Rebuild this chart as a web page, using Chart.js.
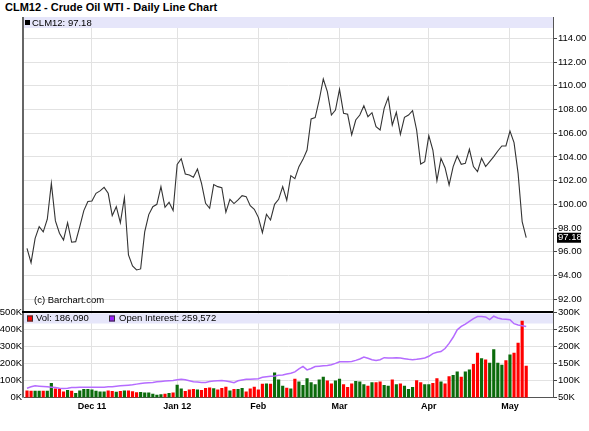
<!DOCTYPE html>
<html>
<head>
<meta charset="utf-8">
<script src="https://cdn.jsdelivr.net/npm/chart.js@4.4.0/dist/chart.umd.min.js"></script>
<style>
  body { margin: 0; background: #fff; }
  #wrap { position: relative; width: 589px; height: 431px; }
  #wrap canvas { position: absolute; left: 0; top: 0; }
  #title { position: absolute; left: 5px; top: 1px; font: bold 11px "Liberation Sans", Arial, sans-serif; color: #000; }
</style>
</head>
<body>
<div id="wrap">
  <div id="title">CLM12 - Crude Oil WTI - Daily Line Chart</div>
  <canvas id="priceChart" width="589" height="431"></canvas>
  <canvas id="volChart" width="589" height="431"></canvas>
</div>
<script>
// daily closes, Nov 8 2011 .. May 7 2012 (trading days)
const closes = [
  96.29, 95.08, 97.13, 98.12, 97.67, 98.74, 101.77, 98.60, 97.56, 96.99,
  98.45, 96.80, 96.85, 98.12, 99.47, 100.23, 100.28, 100.93, 101.13, 101.43,
  100.93, 99.04, 99.80, 98.45, 100.56, 95.73, 94.80, 94.46, 94.55, 97.67,
  99.13, 99.80, 100.00, 101.49, 99.75, 100.17, 99.47, 103.37, 103.85, 102.56,
  102.47, 102.28, 102.98, 101.77, 100.08, 99.66, 101.66, 101.49, 101.41, 99.33,
  100.42, 100.06, 100.37, 100.73, 100.65, 99.89, 99.58, 98.90, 97.61, 99.16,
  98.68, 100.00, 100.42, 101.49, 100.34, 102.42, 102.16, 103.18, 103.79, 104.58,
  107.20, 107.31, 108.80, 110.57, 109.50, 107.53, 107.95, 109.70, 107.67, 107.59,
  105.85, 107.11, 107.53, 108.32, 107.39, 107.73, 106.55, 106.27, 108.10, 109.02,
  106.69, 107.76, 105.90, 107.34, 107.53, 107.90, 106.27, 103.40, 103.60, 105.79,
  104.58, 102.00, 103.88, 103.09, 101.63, 103.18, 104.08, 103.37, 103.45, 104.64,
  103.18, 102.76, 103.88, 103.18, 103.60, 104.02, 104.50, 104.92, 104.92, 106.18,
  105.20, 102.61, 98.54, 97.18
];

// volume, thousands
const volume = [
  41, 39, 39, 39, 39, 39, 85, 53, 51, 35,
  43, 39, 26, 41, 49, 49, 47, 39, 34, 34,
  41, 37, 33, 38, 41, 40, 36, 30, 32, 28,
  29, 22, 15, 18, 22, 26, 28, 74, 52, 38,
  47, 50, 47, 43, 55, 58, 54, 47, 55, 63,
  41, 49, 50, 55, 35, 52, 63, 47, 80, 81,
  80, 146, 105, 69, 57, 53, 109, 93, 73, 113,
  89, 77, 105, 121, 99, 81, 99, 109, 77, 61,
  81, 97, 93, 77, 69, 89, 89, 93, 73, 69,
  105, 77, 81, 69, 49, 61, 101, 89, 77, 77,
  85, 113, 93, 81, 125, 132, 152, 121, 152, 164,
  196, 263, 231, 223, 204, 283, 204, 192, 219, 253,
  263, 322, 451, 186.09
];

// open interest, thousands
const openInterest = [
  78, 82, 85, 84, 83, 82, 81, 80, 78, 77,
  78, 80, 80, 81, 81, 81, 81, 81, 81, 81,
  82, 82, 84, 85, 86, 87, 88, 90, 92, 93,
  94, 95, 97, 98, 99, 100, 101, 103, 104, 103,
  100, 97, 96, 95, 95, 98, 99, 100, 101, 99,
  97, 94, 100, 102, 104, 104, 105, 106, 110, 112,
  113, 114, 116, 117, 120, 122, 126, 135, 142, 132,
  136, 142, 143, 144, 145, 147, 151, 156, 156, 156,
  157, 160, 164, 170, 166, 162, 160, 162, 168, 167,
  167, 168, 167, 165, 163, 162, 163, 165, 167, 172,
  180, 184, 186, 195, 210, 228, 250, 260, 267, 275,
  283, 289, 289, 288, 280, 290, 285, 282, 281, 280,
  268, 264, 262, 259.572
];

// month ticks: index of first trading day of each month
const monthIdx = [16, 37, 57, 77, 99, 119];
const monthLabels = ['Dec 11', 'Jan 12', 'Feb', 'Mar', 'Apr', 'May'];
const priceTicks = [92, 94, 96, 98, 100, 102, 104, 106, 108, 110, 112, 114];
const volTicks = [0, 100, 200, 300, 400, 500];
const oiTicks = [50, 100, 150, 200, 250, 300];

Chart.defaults.font.family = '"Liberation Sans", Arial, sans-serif';
Chart.defaults.color = '#000';
Chart.defaults.animation = false;

const GRID = '#e2e2e2';
const BAND = '#e6e6fa';
const X_MIN = -0.74, X_MAX = 129.6;
const last = closes.length - 1;

const xScale = (showLabels) => ({
  type: 'linear',
  min: X_MIN,
  max: X_MAX,
  offset: false,
  afterBuildTicks: s => { s.ticks = monthIdx.map(v => ({ value: v })); },
  afterFit: s => { s.height = showLabels ? 33.3 : 0; },
  ticks: {
    display: showLabels,
    autoSkip: false,
    maxRotation: 0,
    padding: 3,
    font: { size: 9, weight: 'bold' },
    callback: (v) => monthLabels[monthIdx.indexOf(v)] || ''
  },
  grid: { color: GRID, drawTicks: false, offset: false },
  border: { display: showLabels, color: '#555' }
});

function legendSquare(ctx, x, y, color) {
  ctx.fillStyle = color;
  ctx.fillRect(x, y, 6, 6);
  ctx.strokeStyle = '#333';
  ctx.lineWidth = 1;
  ctx.strokeRect(x + 0.5, y + 0.5, 5, 5);
}

const pricePanel = {
  id: 'pricePanel',
  beforeDatasetsDraw(chart) {
    const { ctx, chartArea: a } = chart;
    ctx.save();
    ctx.fillStyle = BAND;
    ctx.fillRect(a.left, a.top, a.right - a.left, 11);
    ctx.fillStyle = '#000';
    ctx.font = '9.5px "Liberation Sans", Arial, sans-serif';
    ctx.textBaseline = 'middle';
    ctx.fillRect(25, a.top + 3, 5, 5);
    ctx.fillText('CLM12: ' + closes[last].toFixed(2), 32, a.top + 6);
    ctx.fillText('(c) Barchart.com', 34, 300);
    ctx.restore();
  },
  afterDraw(chart) {
    const { ctx, chartArea: a } = chart;
    const y = chart.scales.y.getPixelForValue(closes[last]);
    ctx.save();
    ctx.fillStyle = '#666';
    ctx.fillRect(22, a.top, 2, a.bottom - a.top);
    ctx.fillStyle = '#000';
    ctx.fillRect(557, y - 5, 24, 10);
    ctx.fillStyle = '#fff';
    ctx.font = '9.5px "Liberation Sans", Arial, sans-serif';
    ctx.textBaseline = 'middle';
    ctx.fillText(closes[last].toFixed(2), 558, y);
    ctx.restore();
  }
};

new Chart(document.getElementById('priceChart'), {
  type: 'line',
  data: {
    datasets: [{
      data: closes.map((v, i) => ({ x: i, y: v })),
      borderColor: '#333',
      borderWidth: 1.1,
      pointRadius: 0,
      tension: 0
    }]
  },
  options: {
    responsive: false,
    devicePixelRatio: 1,
    layout: { padding: { top: 17, left: 24, right: 0, bottom: 120 } },
    plugins: { legend: { display: false }, tooltip: { enabled: false } },
    scales: {
      x: xScale(false),
      y: {
        position: 'right',
        min: 91.0,
        max: 115.8,
        afterBuildTicks: s => { s.ticks = priceTicks.map(v => ({ value: v })); },
        afterFit: s => { s.width = 36; },
        ticks: { font: { size: 9.5 }, padding: 1, callback: v => v.toFixed(2) },
        grid: { color: GRID, tickColor: '#444', tickLength: 4 },
        border: { color: '#555' }
      }
    }
  },
  plugins: [pricePanel]
});

// band + legend go under the bars and the OI line, frame goes on top
const volPanel = {
  id: 'volPanel',
  beforeDatasetsDraw(chart) {
    const { ctx, chartArea: a } = chart;
    ctx.save();
    ctx.fillStyle = BAND;
    ctx.fillRect(a.left, a.top + 1.5, a.right - a.left, 10);
    ctx.font = '9.5px "Liberation Sans", Arial, sans-serif';
    ctx.textBaseline = 'middle';
    legendSquare(ctx, 27, a.top + 3.5, '#ff0000');
    ctx.fillStyle = '#000';
    ctx.fillText('Vol: ' + Math.round(volume[last] * 1000).toLocaleString('en-US'), 36, a.top + 6.5);
    legendSquare(ctx, 109, a.top + 3.5, '#9a1cff');
    ctx.fillStyle = '#000';
    ctx.fillText('Open Interest: ' + Math.round(openInterest[last] * 1000).toLocaleString('en-US'), 119, a.top + 6.5);
    ctx.restore();
  },
  afterDraw(chart) {
    const { ctx, chartArea: a } = chart;
    ctx.save();
    ctx.fillStyle = '#666';
    ctx.fillRect(22, a.top, 2, a.bottom - a.top);
    ctx.fillStyle = '#000';
    ctx.fillRect(22, a.top - 1, a.right - 22, 2);
    ctx.restore();
  }
};

const barColors = closes.map((v, i) => (i > 0 && v > closes[i - 1]) ? '#0b6b0b' : '#ff0000');

new Chart(document.getElementById('volChart'), {
  type: 'bar',
  data: {
    datasets: [
      {
        type: 'line',
        data: openInterest.map((v, i) => ({ x: i, y: v })),
        yAxisID: 'yOI',
        borderColor: '#b56cff',
        borderWidth: 1.5,
        pointRadius: 0,
        tension: 0,
        order: 0
      },
      {
        data: volume.map((v, i) => ({ x: i, y: v })),
        yAxisID: 'yVol',
        backgroundColor: barColors,
        barThickness: 2.5,
        order: 1
      }
    ]
  },
  options: {
    responsive: false,
    devicePixelRatio: 1,
    layout: { padding: { top: 312, left: 0, right: 0, bottom: 0 } },
    plugins: { legend: { display: false }, tooltip: { enabled: false } },
    scales: {
      x: xScale(true),
      yVol: {
        position: 'left',
        min: 0,
        max: 505,
        afterBuildTicks: s => { s.ticks = volTicks.map(v => ({ value: v })); },
        afterFit: s => { s.width = 24; },
        ticks: { font: { size: 9.5 }, padding: 2, callback: v => v + 'K' },
        grid: { color: GRID, drawTicks: false },
        border: { display: false }
      },
      yOI: {
        position: 'right',
        min: 50,
        max: 302.5,
        afterBuildTicks: s => { s.ticks = oiTicks.map(v => ({ value: v })); },
        afterFit: s => { s.width = 36; },
        ticks: { font: { size: 9.5 }, padding: 1, callback: v => v + 'K' },
        grid: { drawOnChartArea: false, tickColor: '#444', tickLength: 4 },
        border: { color: '#555' }
      }
    }
  },
  plugins: [volPanel]
});
</script>
</body>
</html>
